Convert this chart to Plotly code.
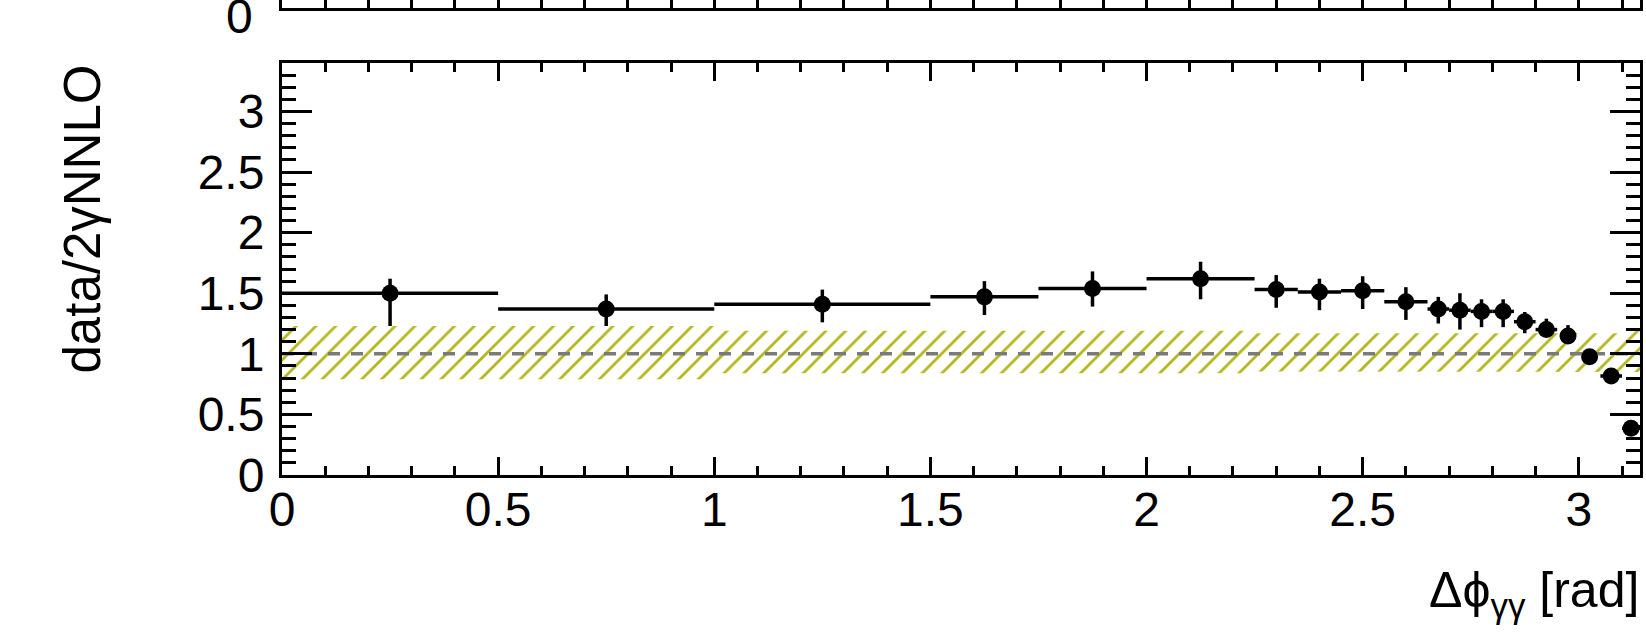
import numpy as np
import plotly.graph_objects as go

PI = float(np.pi)

# Binning in delta-phi (rad)
bin_low = [0.0, 0.5, 1.0, 1.5, 1.75, 2.0, 2.25, 2.35, 2.45, 2.55,
           2.65, 2.70, 2.75, 2.80, 2.85, 2.90, 2.95, 3.00, 3.05, 3.10]
bin_high = bin_low[1:] + [PI]

# data / 2gammaNNLO ratio with its uncertainties
ratio = [1.50, 1.37, 1.41, 1.47, 1.54, 1.62, 1.53, 1.51, 1.52, 1.43,
         1.37, 1.36, 1.35, 1.35, 1.265, 1.20, 1.147, 0.976, 0.817, 0.385]
err_up = [0.12, 0.12, 0.12, 0.13, 0.14, 0.14, 0.12, 0.11, 0.12, 0.12,
          0.10, 0.14, 0.10, 0.10, 0.08, 0.09, 0.09, 0.09, 0.06, 0.04]
err_down = [0.30, 0.16, 0.15, 0.15, 0.15, 0.17, 0.15, 0.15, 0.15, 0.15,
            0.12, 0.16, 0.13, 0.13, 0.13, 0.09, 0.09, 0.09, 0.06, 0.04]

# theory uncertainty band around unity
band_low = [0.79, 0.79, 0.84, 0.84, 0.84, 0.84, 0.855, 0.855, 0.855, 0.855,
            0.855, 0.855, 0.855, 0.855, 0.855, 0.855, 0.855, 0.855, 0.855, 0.85]
band_high = [1.23, 1.23, 1.19, 1.19, 1.19, 1.19, 1.17, 1.17, 1.17, 1.17,
             1.17, 1.17, 1.17, 1.17, 1.17, 1.17, 1.17, 1.17, 1.17, 1.19]

x_tick_vals = [0, 0.5, 1, 1.5, 2, 2.5, 3]
x_tick_text = ["0", "0.5", "1", "1.5", "2", "2.5", "3"]
y_tick_vals = [0, 0.5, 1, 1.5, 2, 2.5, 3]
y_tick_text = ["0", "0.5", "1", "1.5", "2", "2.5", "3"]
upper_y_label = "0"

FONT = "Liberation Sans, Arial, Helvetica, sans-serif"
W, H = 1646, 637
ML, MR, MT, MB = 282, 6, 0, 162
PW, PH = W - ML - MR, H - MT - MB

lo = np.array(bin_low)
hi = np.array(bin_high)
centers = 0.5 * (lo + hi)
half = 0.5 * (hi - lo)

fig = go.Figure()

# error bars (drawn first so the band covers their lower parts)
fig.add_trace(go.Scatter(
    x=centers, y=ratio, mode="markers",
    marker=dict(size=1, color="rgba(0,0,0,0)"),
    error_x=dict(type="data", symmetric=False, array=half, arrayminus=half,
                 color="black", thickness=3.5, width=0),
    error_y=dict(type="data", symmetric=False, array=err_up, arrayminus=err_down,
                 color="black", thickness=3.5, width=0),
    showlegend=False, hoverinfo="skip",
))

# hatched uncertainty band, built as a step polygon
bx = np.ravel(np.column_stack([lo, hi]))
by_hi = np.repeat(band_high, 2)
by_lo = np.repeat(band_low, 2)
poly_x = np.concatenate([bx, bx[::-1], bx[:1]])
poly_y = np.concatenate([by_hi, by_lo[::-1], by_hi[:1]])
fig.add_trace(go.Scatter(
    x=poly_x, y=poly_y, mode="lines", fill="toself",
    line=dict(width=0, color="rgba(0,0,0,0)"),
    fillcolor="white",
    fillpattern=dict(shape="/", fgcolor="#b3b71e", bgcolor="white",
                     size=14, solidity=0.2, fillmode="replace"),
    showlegend=False, hoverinfo="skip",
))

# unity reference line
fig.add_trace(go.Scatter(
    x=[0, PI], y=[1, 1], mode="lines",
    line=dict(color="#7a7a7a", width=3.5, dash="12px,11px"),
    showlegend=False, hoverinfo="skip",
))

# data markers
fig.add_trace(go.Scatter(
    x=centers, y=ratio, mode="markers",
    marker=dict(size=17, color="black", symbol="circle"),
    showlegend=False, hoverinfo="skip",
))

# empty trace so the upper panel's axes are drawn
fig.add_trace(go.Scatter(
    x=[None], y=[None], xaxis="x2", yaxis="y2", mode="markers",
    showlegend=False, hoverinfo="skip",
))

bottom_top = 1 - (63 - MT) / PH
top_bottom = 1 - (7.6 - MT) / PH

common_line = dict(showline=True, linecolor="black", linewidth=3,
                   showgrid=False, zeroline=False)

fig.update_layout(
    width=W, height=H,
    margin=dict(l=ML, r=MR, t=MT, b=MB, pad=0),
    paper_bgcolor="white", plot_bgcolor="white",
    font=dict(family=FONT, color="black"),
    xaxis=dict(
        domain=[0, 1], anchor="y", range=[0, PI],
        tickmode="array", tickvals=x_tick_vals, ticktext=x_tick_text,
        ticks="inside", ticklen=18, tickwidth=2.5, tickcolor="black",
        minor=dict(dtick=0.1, tick0=0, ticks="inside", ticklen=9,
                   tickwidth=2.5, tickcolor="black"),
        mirror="allticks", tickfont=dict(size=48, family=FONT),
        ticklabelstandoff=-10,
        **common_line,
    ),
    yaxis=dict(
        domain=[0, bottom_top], anchor="x", range=[0, 3.4],
        tickmode="array", tickvals=y_tick_vals, ticktext=y_tick_text,
        ticks="inside", ticklen=30, tickwidth=2.5, tickcolor="black",
        minor=dict(dtick=0.1, tick0=0, ticks="inside", ticklen=14,
                   tickwidth=2.5, tickcolor="black"),
        mirror="allticks", tickfont=dict(size=48, family=FONT),
        ticklabelstandoff=5,
        **common_line,
    ),
    xaxis2=dict(
        domain=[0, 1], anchor="y2", range=[0, PI],
        tickmode="array", tickvals=x_tick_vals, showticklabels=False,
        ticks="inside", ticklen=18, tickwidth=2.5, tickcolor="black",
        minor=dict(dtick=0.1, tick0=0, ticks="inside", ticklen=9,
                   tickwidth=2.5, tickcolor="black"),
        mirror=False,
        **common_line,
    ),
    yaxis2=dict(
        domain=[top_bottom, 1], anchor="x2", range=[0, 1],
        showticklabels=False, ticks="",
        mirror=True,
        **common_line,
    ),
    annotations=[
        # zero label of the upper panel's y axis
        dict(text=upper_y_label, showarrow=False,
             xref="paper", yref="y2",
             x=(255 - ML) / PW, xanchor="right",
             y=0, yanchor="middle", yshift=-9,
             font=dict(size=48, family=FONT, color="black")),
        dict(text="data/2γNNLO", textangle=-90, showarrow=False,
             xref="paper", yref="paper",
             x=(82 - ML) / PW, xanchor="center",
             y=1 - (63 - MT) / PH, yanchor="top",
             font=dict(size=51, family=FONT, color="black")),
        dict(text="Δϕ<sub>γγ</sub> [rad]", showarrow=False,
             xref="paper", yref="paper",
             x=(1641 - ML) / PW, xanchor="right",
             y=1 - (593 - MT) / PH, yanchor="middle",
             font=dict(size=50, family=FONT, color="black")),
    ],
)

fig.write_html("out.html")
